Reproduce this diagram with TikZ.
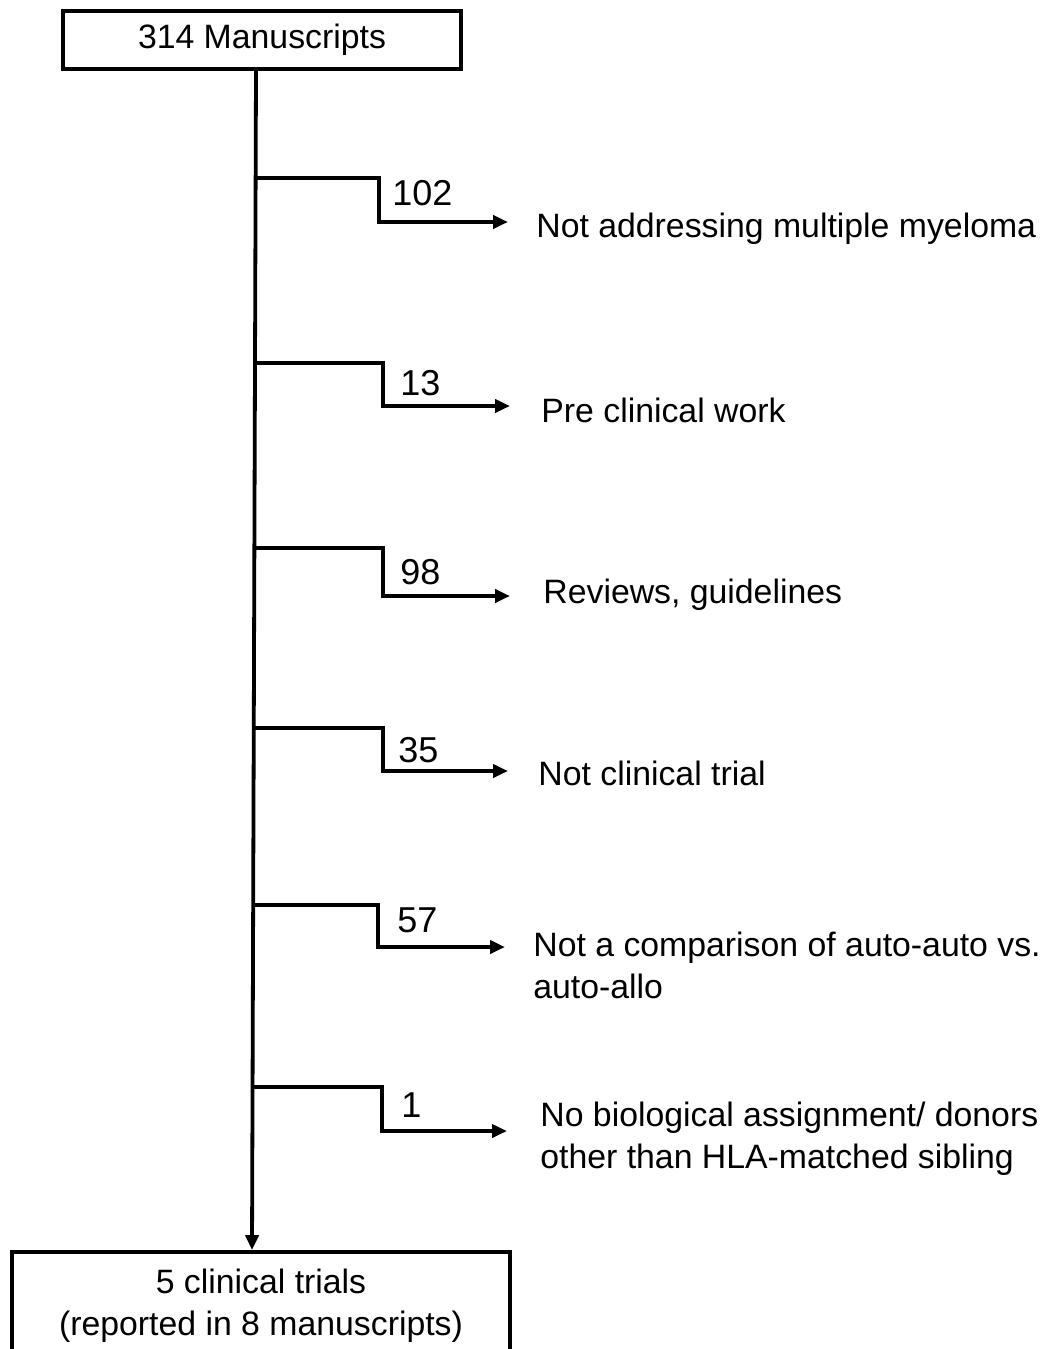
\documentclass[tikz,border=0pt]{standalone}
\usepackage{fontspec}
\setmainfont{Liberation Sans}
\usepackage{tikz}
\usetikzlibrary{arrows.meta,positioning,calc}
\definecolor{ink}{RGB}{0,0,0}
\tikzset{
  box/.style={draw=ink,line width=1.9pt,inner sep=0pt,align=center,
    font=\fontsize{16.9pt}{21pt}\selectfont},
  arr/.style={-{Triangle[length=7.5pt,width=6.5pt]},line width=1.9pt,ink},
  num/.style={anchor=base west,inner sep=0pt,font=\fontsize{18pt}{21pt}\selectfont},
  why/.style={anchor=base west,inner sep=0pt,align=left,
    font=\fontsize{16.9pt}{21pt}\selectfont},
}

\begin{document}
\begin{tikzpicture}[x=0.5pt,y=-0.5pt]
  \useasboundingbox (0,0) rectangle (1048,1349);
  \node[box,minimum width=199pt,minimum height=29pt] (top) at (262,40) {314 Manuscripts};
  \node[box,minimum width=249pt,minimum height=54pt] (bot) at (261,1306)
    {5 clinical trials\\(reported in 8 manuscripts)};
  \draw[arr] ([xshift=-3pt]top.south) -- ([xshift=-4.5pt]bot.north);

  % exclusions
  \coordinate (b1) at (255,178);  \coordinate (k1) at (379,222);  \coordinate (e1) at (508,222);
  \coordinate (b2) at (255,363);  \coordinate (k2) at (383,406);  \coordinate (e2) at (510,406);
  \coordinate (b3) at (254,548);  \coordinate (k3) at (383,596);  \coordinate (e3) at (510,596);
  \coordinate (b4) at (254,728);  \coordinate (k4) at (383,771);  \coordinate (e4) at (508,771);
  \coordinate (b5) at (253,905);  \coordinate (k5) at (378,947);  \coordinate (e5) at (505,947);
  \coordinate (b6) at (253,1087); \coordinate (k6) at (382,1131); \coordinate (e6) at (507,1131);

  \node[num] (n1) at (392,205) {102};
  \node[num] (n2) at (400,395) {13};
  \node[num] (n3) at (400,584) {98};
  \node[num] (n4) at (398,762) {35};
  \node[num] (n5) at (397,932) {57};
  \node[num] (n6) at (401,1117) {1};

  \node[why] (r1) at (536,237) {Not addressing multiple myeloma};
  \node[why] (r2) at (541,422) {Pre clinical work};
  \node[why] (r3) at (543,603) {Reviews, guidelines};
  \node[why] (r4) at (538,785) {Not clinical trial};
  \node[why] (r5) at (533,998) {Not a comparison of auto-auto vs.\\auto-allo};
  \node[why] (r6) at (540,1168) {No biological assignment/ donors\\other than HLA-matched sibling};

  \draw[arr] (b1) -| (k1) -- (e1);
  \draw[arr] (b2) -| (k2) -- (e2);
  \draw[arr] (b3) -| (k3) -- (e3);
  \draw[arr] (b4) -| (k4) -- (e4);
  \draw[arr] (b5) -| (k5) -- (e5);
  \draw[arr] (b6) -| (k6) -- (e6);
\end{tikzpicture}
\end{document}
